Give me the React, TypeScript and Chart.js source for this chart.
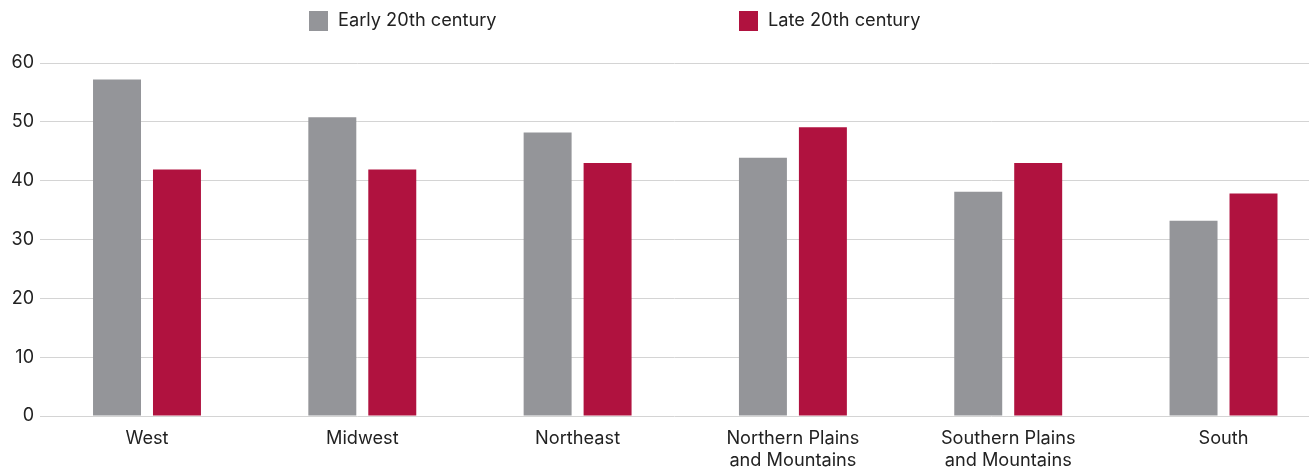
import React, { useEffect, useRef } from "react";
import { Chart, registerables } from "chart.js";

Chart.register(...registerables);

const categories: string[][] = [
  ["West"],
  ["Midwest"],
  ["Northeast"],
  ["Northern Plains", "and Mountains"],
  ["Southern Plains", "and Mountains"],
  ["South"],
];
const early20th: number[] = [57.2, 50.8, 48.2, 43.9, 38.1, 33.2];
const late20th: number[] = [41.9, 41.9, 43.0, 49.1, 43.0, 37.8];
const seriesNames: string[] = ["Early 20th century", "Late 20th century"];
const yTicks: number[] = [0, 10, 20, 30, 40, 50, 60];

const GRAY = "#949599";
const RED = "#B0123F";
const FONT = "Inter, 'Noto Sans', sans-serif";

const legendPlugin = {
  id: "customLegend",
  afterDraw(chart: any) {
    const ctx = chart.ctx;
    const items = [
      { x: 309, color: GRAY, text: seriesNames[0] },
      { x: 739, color: RED, text: seriesNames[1] },
    ];
    ctx.save();
    ctx.font = `18.2px ${FONT}`;
    ctx.textBaseline = "middle";
    ctx.textAlign = "left";
    for (const it of items) {
      ctx.fillStyle = it.color;
      ctx.fillRect(it.x, 11, 19, 20);
      ctx.fillStyle = "#222";
      ctx.fillText(it.text, it.x + 29, 21);
    }
    ctx.restore();
  },
};

export default function App() {
  const ref = useRef<HTMLCanvasElement | null>(null);
  useEffect(() => {
    document.body.style.margin = "0";
    if (!ref.current) return;
    const chart = new Chart(ref.current, {
      type: "bar",
      data: {
        datasets: [
          {
            label: seriesNames[0],
            data: early20th.map((v, i) => ({ x: i, y: v })),
            backgroundColor: GRAY,
            barPercentage: 0.8,
            categoryPercentage: 0.557,
          },
          {
            label: seriesNames[1],
            data: late20th.map((v, i) => ({ x: i, y: v })),
            backgroundColor: RED,
            barPercentage: 0.8,
            categoryPercentage: 0.557,
          },
        ],
      },
      options: {
        animation: false,
        responsive: false,
        maintainAspectRatio: false,
        layout: { padding: { top: 63, right: 2, left: 5, bottom: 0 } },
        plugins: {
          legend: { display: false },
          tooltip: { enabled: false },
        },
        scales: {
          x: {
            type: "linear",
            offset: false,
            min: -0.497,
            max: 5.397,
            grid: { display: false, offset: false, drawTicks: false },
            border: { display: false },
            afterBuildTicks: (scale: any) => {
              scale.ticks = categories.map((_, i) => ({ value: i }));
            },
            afterFit: (scale: any) => {
              scale.height = 54;
            },
            ticks: {
              autoSkip: false,
              maxRotation: 0,
              padding: 12,
              color: "#222",
              font: { family: FONT, size: 18.2, lineHeight: 1.2 },
              callback: (value: any) => categories[value as number],
            },
          },
          y: {
            min: 0,
            max: 60,
            afterBuildTicks: (scale: any) => {
              scale.ticks = yTicks.map((v) => ({ value: v }));
            },
            grid: { color: "#d4d4d4", lineWidth: 1, drawTicks: false },
            border: { display: false },
            ticks: {
              padding: 6,
              color: "#222",
              font: { family: FONT, size: 18 },
            },
          },
        },
      },
      plugins: [legendPlugin],
    });
    return () => chart.destroy();
  }, []);
  return (
    <div style={{ width: 1311, height: 470 }}>
      <canvas ref={ref} width={1311} height={470} style={{ display: "block" }} />
    </div>
  );
}
